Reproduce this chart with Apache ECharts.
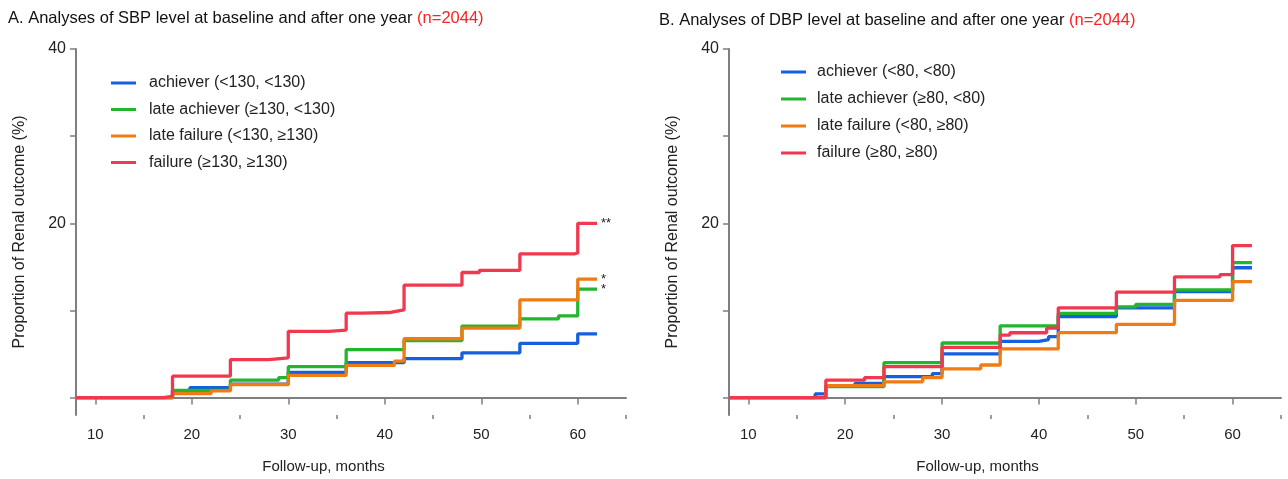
<!DOCTYPE html>
<html>
<head>
<meta charset="utf-8">
<script src="https://cdn.jsdelivr.net/npm/echarts@6/dist/echarts.min.js"></script>
<style>
  html, body { margin: 0; padding: 0; background: #fff; }
  #chart { width: 1288px; height: 479px; }
</style>
</head>
<body>
<div id="chart"></div>
<script>
// [month, cumulative %] change points, step drawn from each point onward
const sbpAchiever = [[8, 0], [18, 0.8], [19.8, 1.14], [24, 1.55], [30, 2.9], [36, 4.0], [42, 4.48], [48, 5.13], [54, 6.23], [60, 7.32], [62, 7.32]];
const sbpLateAchiever = [[8, 0], [18, 0.83], [24, 2.0], [29, 2.28], [30, 3.55], [36, 5.5], [42, 6.53], [48, 8.2], [54, 9.03], [58, 9.37], [60, 12.45], [62, 12.45]];
const sbpLateFailure = [[8, 0], [18, 0.46], [22, 0.76], [24, 1.5], [30, 2.55], [36, 3.7], [41, 4.18], [42, 6.75], [48, 7.97], [54, 11.2], [60, 13.6], [62, 13.6]];
const sbpFailure = [[8, 0], [17, 0.15], [18, 2.45], [24, 4.36], [28, 4.56], [30, 7.6], [34.2, 7.75], [36, 9.68], [37.7, 9.76], [40.5, 9.87], [41, 10.06], [42, 12.9], [48, 14.35], [49.8, 14.6], [54, 16.5], [59.7, 16.6], [60, 20.0], [62, 20.0]];

const dbpAchiever = [[8, 0], [16.9, 0.42], [18, 1.3], [21, 1.62], [24, 2.41], [29, 2.75], [30, 5.02], [36, 6.46], [40, 6.65], [41, 7.0], [42, 9.29], [48, 10.3], [54, 12.17], [60, 14.9], [62, 14.9]];
const dbpLateAchiever = [[8, 0], [18, 1.25], [24, 4.0], [30, 6.26], [36, 8.23], [42, 9.66], [48, 10.4], [50, 10.7], [54, 12.35], [60, 15.48], [62, 15.48]];
const dbpLateFailure = [[8, 0], [18, 1.36], [24, 1.81], [28, 2.3], [30, 3.3], [34, 3.74], [36, 5.58], [42, 7.45], [48, 8.4], [54, 11.15], [60, 13.3], [62, 13.3]];
const dbpFailure = [[8, 0], [18, 2.0], [22, 2.3], [24, 3.54], [30, 5.75], [36, 7.17], [37, 7.44], [40.8, 7.96], [42, 10.3], [48, 12.1], [54, 13.86], [58.7, 14.1], [60, 17.44], [62, 17.44]];

const sbpNames = ['achiever (<130, <130)', 'late achiever (≥130, <130)', 'late failure (<130, ≥130)', 'failure (≥130, ≥130)'];
const dbpNames = ['achiever (<80, <80)', 'late achiever (≥80, <80)', 'late failure (<80, ≥80)', 'failure (≥80, ≥80)'];
const endMarks = ['', '*', '*', '**'];

const xMajorTicks = [10, 20, 30, 40, 50, 60];
const xMinorTicks = [15, 25, 35, 45, 55, 65];
const yTicks = [0, 10, 20, 30, 40];
const yLabels = [20, 40];

const colors = ['#1560e0', '#22b52e', '#ef7b12', '#f2384e'];
const font = 'Liberation Sans, Arial, sans-serif';
const axisGray = '#7f7f7f';

const chart = echarts.init(document.getElementById('chart'));

function xAxes(gridIndex) {
  return [
    {
      type: 'value', gridIndex: gridIndex, min: 8, max: 65,
      name: 'Follow-up, months', nameLocation: 'middle', nameGap: 44,
      nameTextStyle: { fontFamily: font, fontSize: 15, color: '#222', padding: [0, 55, 0, 0] },
      axisLine: { lineStyle: { color: axisGray, width: 2 } },
      axisTick: { customValues: xMajorTicks, length: 7, lineStyle: { color: axisGray, width: 1.5 } },
      axisLabel: { customValues: xMajorTicks, margin: 12, fontFamily: font, fontSize: 15, color: '#222' },
      splitLine: { show: false }
    },
    {
      type: 'value', gridIndex: gridIndex, min: 8, max: 65, position: 'bottom',
      axisLine: { show: false },
      axisTick: { customValues: xMinorTicks, length: 4, lineStyle: { color: axisGray, width: 1.5 } },
      axisLabel: { show: false },
      splitLine: { show: false }
    }
  ];
}

function yAxis(gridIndex) {
  return {
    type: 'value', gridIndex: gridIndex, min: -2, max: 40,
    name: 'Proportion of Renal outcome (%)', nameLocation: 'middle', nameGap: 48,
    nameTextStyle: { fontFamily: font, fontSize: 16, color: '#222' },
    axisLine: { show: true, lineStyle: { color: axisGray, width: 2 } },
    axisTick: { show: true, customValues: yTicks, length: 6, lineStyle: { color: axisGray, width: 1.5 } },
    axisLabel: { customValues: yLabels, margin: 10, fontFamily: font, fontSize: 16, color: '#222' },
    splitLine: { show: false }
  };
}

function makeSeries(names, datasets, xIdx, yIdx, marks) {
  return datasets.map(function (d, i) {
    return {
      name: names[i], type: 'line', step: 'end', data: d,
      xAxisIndex: xIdx, yAxisIndex: yIdx,
      symbol: 'none', color: colors[i],
      lineStyle: { width: 3.3, color: colors[i] },
      endLabel: marks && marks[i] ? {
        show: true, formatter: marks[i], distance: 4,
        fontFamily: font, fontSize: 13, color: '#222'
      } : { show: false },
      z: 2 + i
    };
  });
}

function legend(names, left, top, gap, padLeft) {
  return {
    data: names, orient: 'vertical', left: left, top: top,
    itemWidth: 25, itemHeight: 3, itemGap: gap,
    icon: 'rect',
    textStyle: { fontFamily: font, fontSize: 16, color: '#222', padding: [6, 0, 0, padLeft] }
  };
}

function titleRich() {
  return { rich: {
    a: { fontFamily: font, fontSize: 16.5, fontWeight: 'normal', color: '#111' },
    b: { fontFamily: font, fontSize: 16.5, fontWeight: 'normal', color: '#ff2020' }
  } };
}

chart.setOption({
  animation: false,
  backgroundColor: '#fff',
  title: [
    {
      left: 8, top: 10, padding: 0,
      text: '{a|A. Analyses of SBP level at baseline and after one year }{b|(n=2044)}',
      textStyle: titleRich()
    },
    {
      left: 659, top: 12, padding: 0,
      text: '{a|B. Analyses of DBP level at baseline and after one year }{b|(n=2044)}',
      textStyle: titleRich()
    }
  ],
  legend: [
    legend(sbpNames, 106, 70, 10.5, 8),
    legend(dbpNames, 776, 59, 11, 6)
  ],
  grid: [
    { left: 76, top: 49, width: 550, height: 369 },
    { left: 729, top: 49, width: 552, height: 371 }
  ],
  xAxis: xAxes(0).concat(xAxes(1)),
  yAxis: [yAxis(0), yAxis(1)],
  series: makeSeries(sbpNames, [sbpAchiever, sbpLateAchiever, sbpLateFailure, sbpFailure], 0, 0, endMarks)
    .concat(makeSeries(dbpNames, [dbpAchiever, dbpLateAchiever, dbpLateFailure, dbpFailure], 2, 1, null))
});
</script>
</body>
</html>
